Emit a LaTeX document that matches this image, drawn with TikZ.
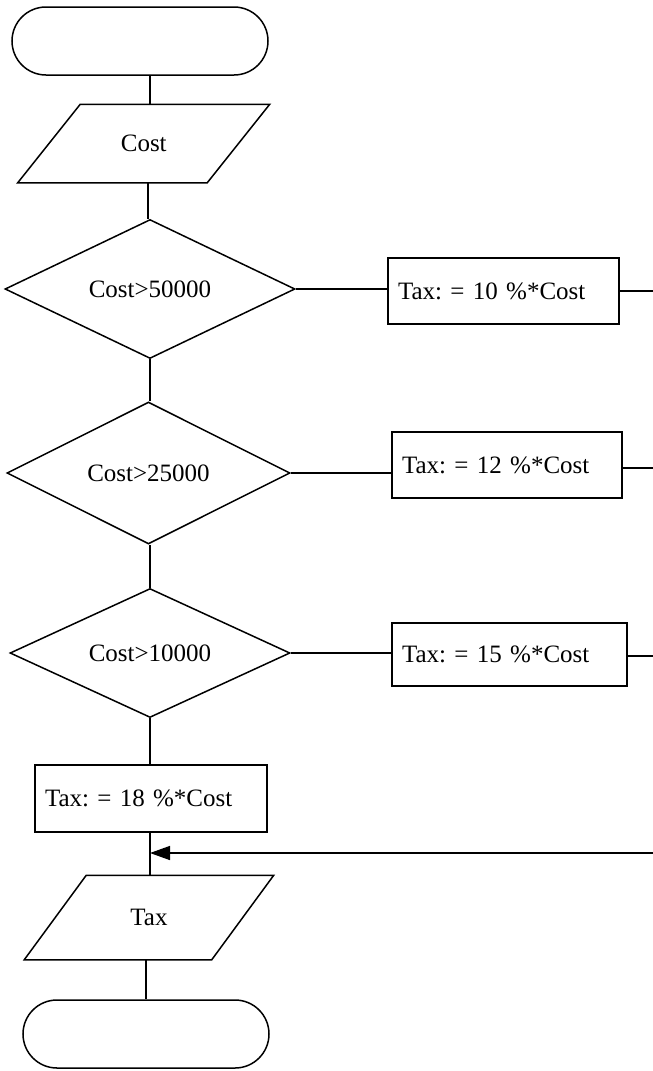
\documentclass[tikz,border=0pt]{standalone}
\usepackage{fontspec}
\setmainfont{Liberation Serif}
\frenchspacing
\usetikzlibrary{shapes.geometric,arrows.meta}
\begin{document}
\begin{tikzpicture}[x=1pt,y=-1pt,
  line width=1.5pt,
  every node/.style={font=\fontsize{25}{30}\selectfont},
  term/.style={draw, rectangle, rounded corners=34pt, minimum width=#1, minimum height=68pt, inner sep=0pt},
  iobox/.style={rectangle, inner sep=0pt},
  ioedge/.style={line width=1.5pt},
  dec/.style={draw, diamond, aspect=2, inner sep=0pt},
  procbox/.style={draw, rectangle, inner xsep=10pt, inner ysep=0pt, align=left},
  conn/.style={line width=1.5pt},
  arr/.style={line width=1.5pt, -{Triangle[length=20pt,width=14pt]}}
]
\useasboundingbox (0,0) rectangle (653,1071);

% nodes
\node[term=256pt] (t1) at (140,41) {};
\node[iobox, minimum width=188pt, minimum height=77pt] (p1) at (143.75,143.5) {Cost};
\draw[ioedge] ([xshift=31.25pt]p1.north west) -- ([xshift=31.25pt]p1.north east)
  -- ([xshift=-31.25pt]p1.south east) -- ([xshift=-31.25pt]p1.south west) -- cycle;
\node[dec, minimum width=290pt, minimum height=139pt] (d1) at (150,289) {Cost>50000};
\node[dec, minimum width=283pt, minimum height=142pt] (d2) at (148.5,473) {Cost>25000};
\node[dec, minimum width=280pt, minimum height=129pt] (d3) at (150,653) {Cost>10000};

\node[procbox, text width=211pt, minimum height=66pt] (b1) at (503.5,291) {Tax: = 10 \%*Cost};
\node[procbox, text width=210pt, minimum height=66pt] (b2) at (507,465) {Tax: = 12 \%*Cost};
\node[procbox, text width=215pt, minimum height=63pt] (b3) at (509.5,654.5) {Tax: = 15 \%*Cost};
\node[procbox, text width=212pt, minimum height=67pt] (b4) at (151,798.5) {Tax: = 18 \%*Cost};

\node[iobox, minimum width=186pt, minimum height=83pt] (p2) at (149,917.5) {Tax};
\draw[ioedge] ([xshift=31pt]p2.north west) -- ([xshift=31pt]p2.north east)
  -- ([xshift=-31pt]p2.south east) -- ([xshift=-31pt]p2.south west) -- cycle;
\node[term=246pt] (t2) at (146,1034) {};

% free ends at the right edge
\coordinate (e1) at (653,291);
\coordinate (e2) at (653,468);
\coordinate (e3) at (653,656);
\coordinate (e4) at (653,853);

% vertical connectors
\draw[conn] (t1.south -| d1.north) -- (p1.north -| d1.north);
\draw[conn] (p1.south -| 148,0) -- (d1.north -| 148,0);
\draw[conn] (d1.south) -- (d2.north -| d1.south);
\draw[conn] (d2.south -| d1.south) -- (d3.north);
\draw[conn] (d3.south) -- (b4.north -| d3.south);
\draw[conn] (b4.south -| d3.south) -- (p2.north -| d3.south);
\draw[conn] (p2.south -| t2.north) -- (t2.north);

% horizontal connectors
\draw[conn] (d1.east) -- (d1.east -| b1.west);
\draw[conn] (d2.east) -- (d2.east -| b2.west);
\draw[conn] (d3.east) -- (d3.east -| b3.west);
\draw[conn] (b1.east) -- (e1);
\draw[conn] (e2 -| b2.east) -- (e2);
\draw[conn] (e3 -| b3.east) -- (e3);
\draw[arr] (e4) -- (e4 -| d3.south);
\end{tikzpicture}
\end{document}
